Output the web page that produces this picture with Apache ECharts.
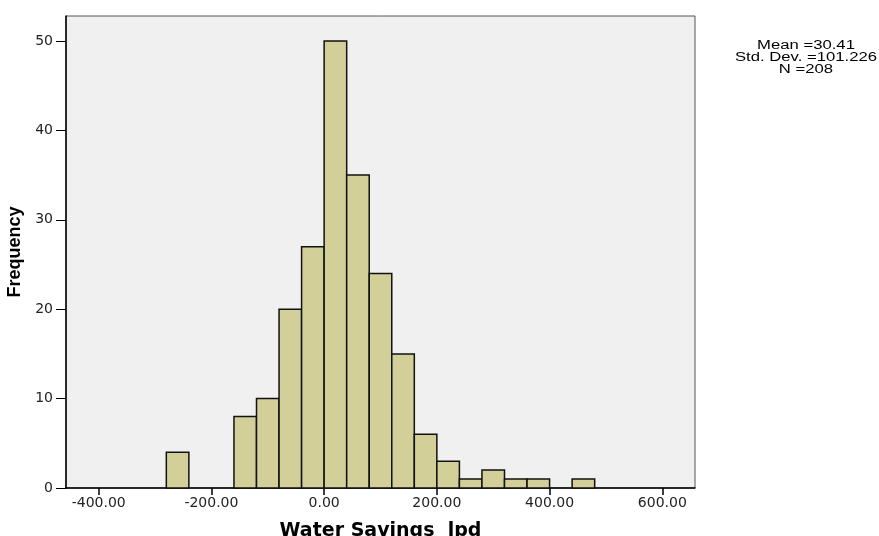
<!DOCTYPE html>
<html><head><meta charset="utf-8">
<script src="https://cdn.jsdelivr.net/npm/echarts@6/dist/echarts.min.js"></script>
<style>html,body{margin:0;padding:0;background:#fff}#c{width:879px;height:536px}</style>
</head><body><div id="c"></div>
<script>
const binStarts = [-280,-240,-200,-160,-120,-80,-40,0,40,80,120,160,200,240,280,320,360,400,440];
const binWidth = 40;
const counts = [4,0,0,8,10,20,27,50,35,24,15,6,3,1,2,1,1,0,1];
const xTicks = [-400,-200,0,200,400,600];
const yTicks = [0,10,20,30,40,50];
const statsLines = ['Mean =30.41','Std. Dev. =101.226','N =208'];

const data = binStarts.map((s,i)=>[s, s+binWidth, counts[i]]).filter(d=>d[2]>0);
const chart = echarts.init(document.getElementById('c'));
chart.setOption({
  backgroundColor:'#ffffff',
  animation:false,
  grid:{left:66,right:184,top:16,bottom:48,outerBoundsMode:'none',containLabel:false,show:true,backgroundColor:'#f0f0f0',borderColor:'#555',borderWidth:1},
  xAxis:{type:'value',min:-458,max:658,
    axisLine:{show:true,onZero:false,lineStyle:{color:'#000',width:1.5}},
    axisTick:{show:true,customValues:xTicks,length:7,lineStyle:{color:'#000',width:1.5}},
    axisLabel:{customValues:xTicks,formatter:v=>v.toFixed(2),color:'#222',fontFamily:'DejaVu Sans',fontSize:14,margin:8},
    splitLine:{show:false},
    name:'Water Savings  lpd',nameLocation:'middle',nameGap:34,
    nameTextStyle:{fontFamily:'DejaVu Sans',fontWeight:'bold',fontSize:19,color:'#000'}
  },
  yAxis:{type:'value',min:0,max:52.8,
    axisLine:{show:true,onZero:false,lineStyle:{color:'#000',width:1.5}},
    axisTick:{show:true,customValues:yTicks,length:10,lineStyle:{color:'#000',width:1}},
    axisLabel:{customValues:yTicks,color:'#222',fontFamily:'DejaVu Sans',fontSize:14,margin:13},
    splitLine:{show:false},
    name:'Frequency',nameLocation:'middle',nameGap:37,
    nameTextStyle:{fontFamily:'Liberation Sans',fontWeight:'bold',fontSize:18,color:'#000'}
  },
  graphic:[{
    type:'text',x:806,y:40,scaleX:1.39,
    style:{text:statsLines.join('\n'),fontFamily:'Liberation Sans',fontSize:12,lineHeight:12,fill:'#000',align:'center'}
  }],
  series:[{type:'custom',
    renderItem:(params,api)=>{
      const p0=api.coord([api.value(0),api.value(2)]);
      const p1=api.coord([api.value(1),0]);
      return {type:'rect',shape:{x:p0[0],y:p0[1],width:p1[0]-p0[0],height:p1[1]-p0[1]},
        style:{fill:'#d3cf98',stroke:'#111',lineWidth:1.5}};
    },
    encode:{x:[0,1],y:2},
    data:data
  }]
});
</script></body></html>
